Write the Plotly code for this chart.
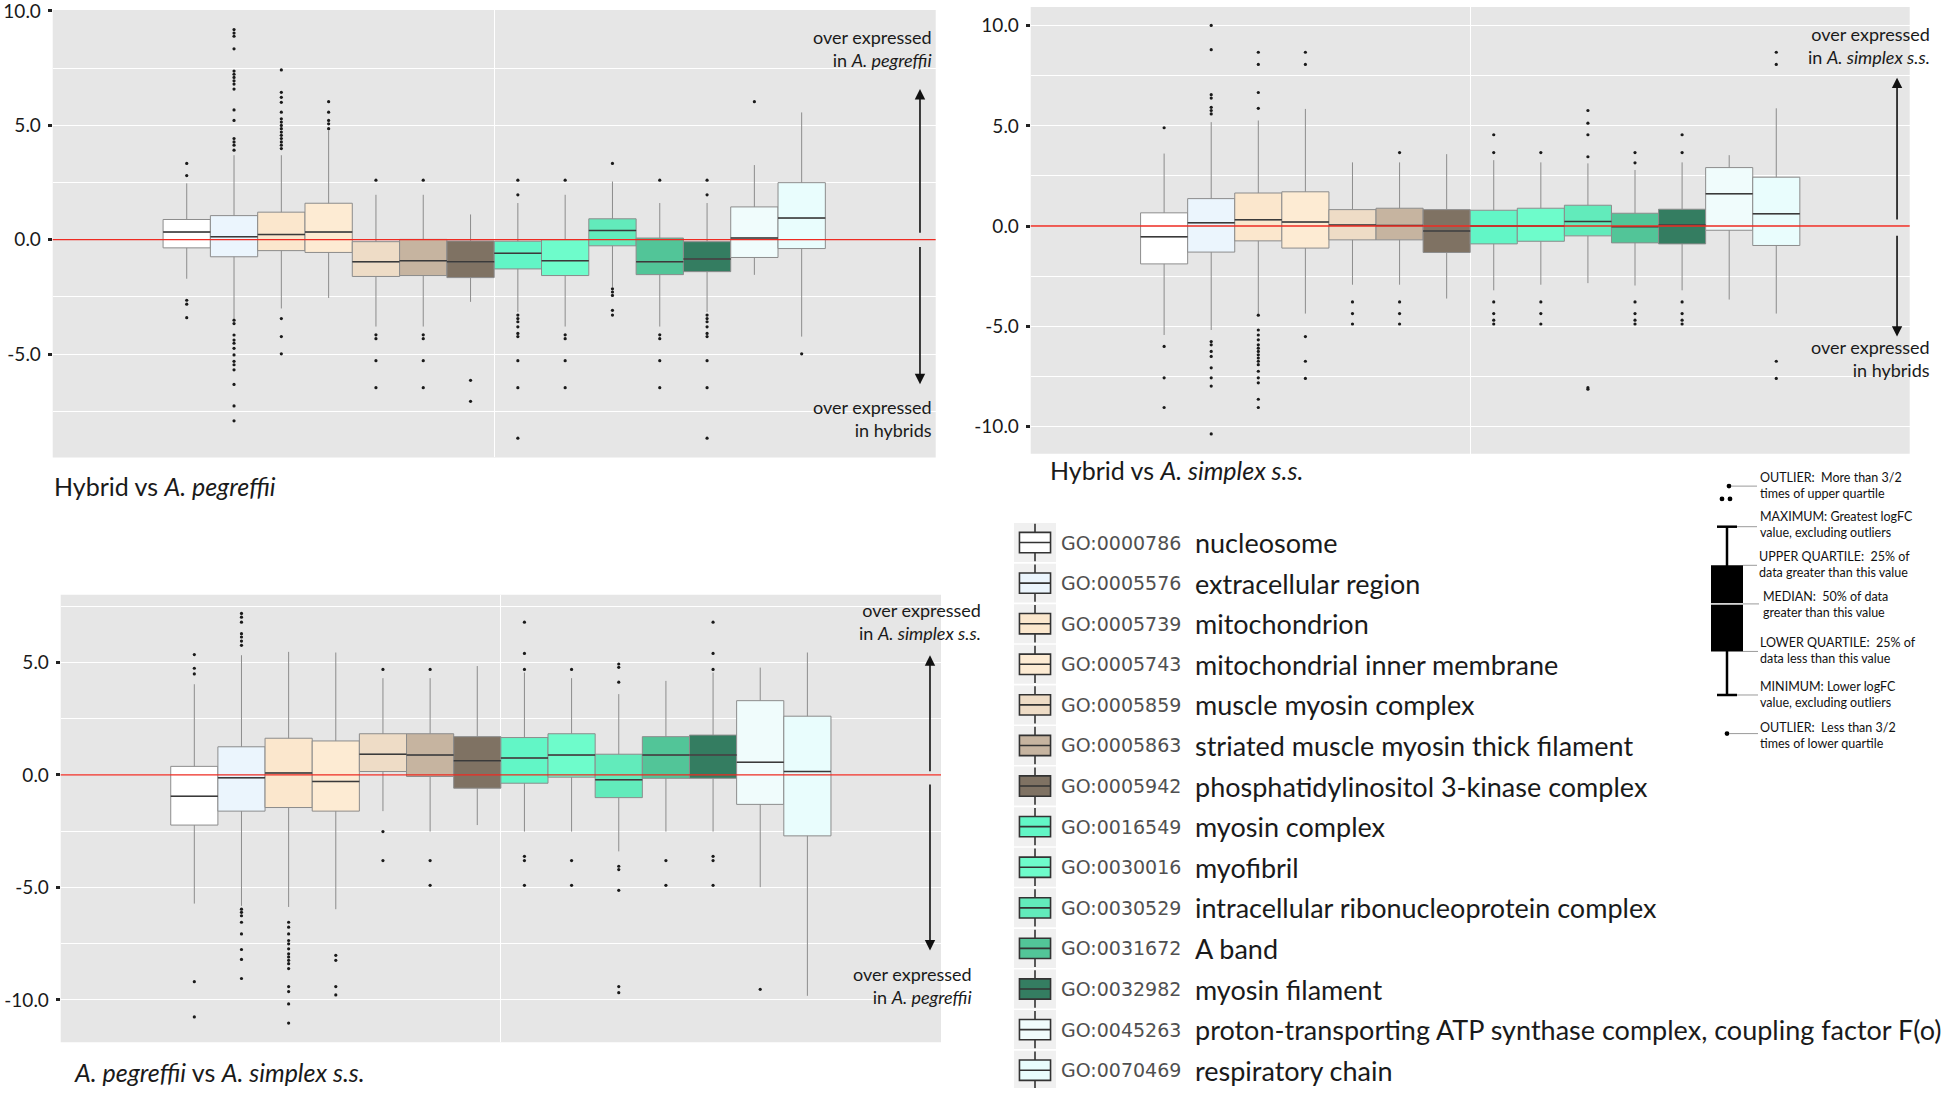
import plotly.graph_objects as go

W, H = 1946, 1094

# ---------------- data ----------------
go_ids = ["GO:0000786", "GO:0005576", "GO:0005739", "GO:0005743", "GO:0005859",
          "GO:0005863", "GO:0005942", "GO:0016549", "GO:0030016", "GO:0030529",
          "GO:0031672", "GO:0032982", "GO:0045263", "GO:0070469"]
go_terms = ["nucleosome", "extracellular region", "mitochondrion",
            "mitochondrial inner membrane", "muscle myosin complex",
            "striated muscle myosin thick filament",
            "phosphatidylinositol 3-kinase complex", "myosin complex", "myofibril",
            "intracellular ribonucleoprotein complex", "A band", "myosin filament",
            "proton-transporting ATP synthase complex, coupling factor F(o)",
            "respiratory chain"]
fill_colors = ["#FFFFFF", "#EBF5FD", "#FBE7CD", "#FDEBD3", "#EEDCC6", "#C6B4A0",
               "#7F7263", "#62F6C6", "#6EFCCB", "#62EBBB", "#52C598", "#347D61",
               "#F0FCFC", "#E9FDFD"]

tick_vals = [-10, -5, 0, 5, 10]
tick_text = ["-10.0", "-5.0", "0.0", "5.0", "10.0"]

# Panel 1: Hybrid vs A. pegreffii
p1_q1 = [-0.36, -0.75, -0.48, -0.56, -1.61, -1.57, -1.66, -1.28, -1.57, -0.27, -1.53, -1.40, -0.78, -0.39]
p1_med = [0.33, 0.13, 0.22, 0.33, -0.97, -0.92, -0.97, -0.60, -0.92, 0.40, -0.97, -0.85, 0.07, 0.94]
p1_q3 = [0.88, 1.05, 1.20, 1.59, -0.09, 0.01, -0.06, -0.07, 0.00, 0.91, 0.07, -0.09, 1.43, 2.49]
p1_lo = [-1.71, -3.44, -3.01, -2.55, -3.80, -3.80, -2.72, -3.16, -3.80, -2.07, -3.80, -3.16, -1.54, -4.24]
p1_hi = [2.46, 3.69, 3.69, 4.77, 1.96, 1.96, 1.10, 1.60, 1.96, 2.54, 1.60, 1.60, 3.26, 5.56]
p1_out = [
    [3.33, 2.80, -2.65, -2.82, -3.41],
    [9.18, 9.03, 8.89, 8.34, 7.37, 7.23, 7.09, 6.94, 6.80, 6.58, 5.67, 5.21, 4.42, 4.27, 4.13, 3.91,
     -3.52, -3.67, -4.17, -4.39, -4.53, -4.75, -5.04, -5.32, -5.47, -5.69, -6.33, -7.27, -7.92],
    [7.42, 6.44, 6.22, 6.00, 5.57, 5.28, 5.14, 4.99, 4.85, 4.70, 4.56, 4.42, 4.27, 4.13, 3.98,
     -3.45, -4.24, -4.99],
    [6.03, 5.57, 5.21, 5.06, 4.85],
    [2.60, -4.16, -4.33, -5.29, -6.47],
    [2.60, -4.16, -4.33, -5.29, -6.47],
    [-6.15, -7.07],
    [2.60, 1.96, -3.30, -3.45, -3.59, -3.81, -4.10, -4.24, -5.29, -6.47, -8.68],
    [2.60, -4.16, -4.33, -5.29, -6.47],
    [3.33, -2.15, -2.29, -2.44, -3.09, -3.30],
    [2.60, -4.16, -4.33, -5.29, -6.47],
    [2.60, 1.96, -3.30, -3.45, -3.59, -3.81, -4.10, -4.24, -5.29, -6.47, -8.68],
    [6.03],
    [-4.99],
]

# Panel 2: Hybrid vs A. simplex s.s.
p2_q1 = [-1.89, -1.30, -0.74, -1.10, -0.69, -0.69, -1.32, -0.89, -0.76, -0.49, -0.84, -0.89, -0.21, -0.97]
p2_med = [-0.54, 0.16, 0.31, 0.20, 0.05, 0.03, -0.25, 0.00, 0.00, 0.23, -0.03, 0.05, 1.61, 0.61]
p2_q3 = [0.66, 1.37, 1.65, 1.71, 0.82, 0.89, 0.82, 0.79, 0.89, 1.04, 0.64, 0.84, 2.92, 2.44]
p2_lo = [-5.44, -5.19, -4.37, -4.37, -2.93, -2.93, -3.62, -3.21, -2.93, -2.85, -2.97, -3.21, -3.67, -4.37]
p2_hi = [3.62, 5.19, 5.27, 5.85, 3.18, 3.18, 3.59, 3.29, 3.18, 3.13, 2.80, 3.18, 3.54, 5.88]
p2_out = [
    [4.91, -6.01, -7.58, -9.06],
    [10.02, 8.81, 6.56, 6.39, 5.93, 5.77, 5.60, -5.77, -5.93, -6.26, -6.51, -7.08, -7.58, -7.99, -10.38],
    [8.68, 8.07, 6.67, 5.88, -4.45, -5.19, -5.44, -5.68, -5.93, -6.10, -6.26, -6.43, -6.59, -6.75,
     -6.92, -7.25, -7.58, -7.83, -8.65, -9.06],
    [8.68, 8.07, -5.52, -6.75, -7.61],
    [-3.79, -4.37, -4.89],
    [3.67, -3.79, -4.37, -4.89],
    [],
    [4.56, 3.67, -3.79, -4.37, -4.70, -4.89],
    [3.67, -3.79, -4.37, -4.89],
    [5.77, 5.14, 4.56, 3.46, -8.07, -8.15],
    [3.67, 3.16, -3.79, -4.37, -4.70, -4.89],
    [4.56, 3.67, -3.79, -4.37, -4.70, -4.89],
    [],
    [8.68, 8.07, -6.75, -7.61],
]

# Panel 3: A. pegreffii vs A. simplex s.s.
p3_q1 = [-2.23, -1.61, -1.45, -1.61, 0.15, -0.07, -0.59, -0.37, -0.10, -1.01, -0.15, -0.15, -1.31, -2.71]
p3_med = [-0.95, -0.13, 0.09, -0.29, 0.92, 0.88, 0.63, 0.75, 0.88, -0.22, 0.88, 0.88, 0.56, 0.15]
p3_q3 = [0.38, 1.25, 1.63, 1.51, 1.83, 1.83, 1.70, 1.66, 1.83, 0.92, 1.70, 1.77, 3.30, 2.61]
p3_lo = [-5.72, -5.82, -5.87, -5.97, -1.61, -2.52, -2.23, -2.52, -2.52, -3.40, -2.52, -2.52, -4.99, -9.82]
p3_hi = [4.03, 5.32, 5.47, 5.44, 4.30, 4.30, 4.84, 4.55, 4.30, 3.59, 4.18, 4.55, 4.77, 5.44]
p3_out = [
    [5.35, 4.74, 4.49, -9.19, -10.76],
    [7.18, 7.01, 6.79, 6.28, 6.13, 5.95, 5.76, -5.97, -6.11, -6.26, -6.55, -7.07, -7.76, -8.20, -9.05],
    [-6.55, -6.77, -7.07, -7.36, -7.51, -7.73, -7.95, -8.09, -8.24, -8.39, -8.61, -9.41, -9.63,
     -10.18, -11.03],
    [-8.02, -8.24, -9.41, -9.78],
    [4.69, -2.52, -3.81],
    [4.69, -3.81, -4.91],
    [],
    [6.79, 5.40, 4.69, -3.62, -3.81, -4.91],
    [4.69, -3.81, -4.91],
    [4.93, 4.78, 4.12, -4.06, -4.21, -5.13, -9.41, -9.68],
    [-3.81, -4.91],
    [6.79, 5.40, 4.69, -3.62, -3.81, -4.91],
    [-9.53],
    [],
]

panel_titles = ["Hybrid vs <i>A. pegreffii</i>", "Hybrid vs <i>A. simplex s.s.</i>",
                "<i>A. pegreffii</i> vs <i>A. simplex s.s.</i>"]
top_notes = ["over expressed<br>in <i>A. pegreffii</i>", "over expressed<br>in <i>A. simplex s.s.</i>",
             "over expressed<br>in <i>A. simplex s.s.</i>"]
bottom_notes = ["over expressed<br>in hybrids", "over expressed<br>in hybrids",
                "over expressed<br>in <i>A. pegreffii</i>"]

# ---------------- helpers ----------------
def fx(px):
    return min(1.0, max(0.0, px / W))


def fy(py):
    return min(1.0, max(0.0, 1 - py / H))


FONT = "Lato"
n = len(go_ids)
bw = 0.9 / n
pos = [0.55 + (i + 0.5) * bw for i in range(n)]

fig = go.Figure()
shapes = []
annotations = []


def add_panel(k, q1, med, q3, lo, hi, outs):
    xa = "x" if k == 1 else f"x{k}"
    ya = "y" if k == 1 else f"y{k}"
    for i in range(n):
        fig.add_trace(go.Box(
            x=[pos[i]], q1=[q1[i]], median=[med[i]], q3=[q3[i]],
            lowerfence=[lo[i]], upperfence=[hi[i]], width=bw,
            fillcolor=fill_colors[i], line=dict(color="#8c8c8c", width=1),
            whiskerwidth=0, boxpoints=False, xaxis=xa, yaxis=ya,
            showlegend=False, hoverinfo="skip"))
    mx, my = [], []
    for i in range(n):
        mx += [pos[i] - bw / 2, pos[i] + bw / 2, None]
        my += [med[i], med[i], None]
    fig.add_trace(go.Scatter(x=mx, y=my, mode="lines", line=dict(color="#3a3a3a", width=1.5),
                             xaxis=xa, yaxis=ya, showlegend=False, hoverinfo="skip"))
    ox, oy = [], []
    for i in range(n):
        ox += [pos[i]] * len(outs[i])
        oy += outs[i]
    fig.add_trace(go.Scatter(x=ox, y=oy, mode="markers",
                             marker=dict(size=3.2, color="#1a1a1a"),
                             xaxis=xa, yaxis=ya, showlegend=False, hoverinfo="skip"))
    shapes.append(dict(type="rect", xref=f"{xa} domain", yref=f"{ya} domain", x0=0, x1=1, y0=0, y1=1,
                       fillcolor="#E6E6E6", line=dict(width=0), layer="below"))
    shapes.append(dict(type="line", xref=f"{xa} domain", yref=ya, x0=0, x1=1, y0=0, y1=0,
                       line=dict(color="#EE2B22", width=1.4), layer="above"))


add_panel(1, p1_q1, p1_med, p1_q3, p1_lo, p1_hi, p1_out)
add_panel(2, p2_q1, p2_med, p2_q3, p2_lo, p2_hi, p2_out)
add_panel(3, p3_q1, p3_med, p3_q3, p3_lo, p3_hi, p3_out)

# legend rows
row_top, row_step = 543, 41.0
row_y = [row_top + row_step * i for i in range(n)]
leg_bottom_px = min(H, row_top + row_step * 13.5)
leg_range_bottom = (leg_bottom_px - row_top) / row_step

# legend key icons (on their own hidden axis; one row per GO term)
for i in range(n):
    fig.add_trace(go.Box(
        x=[0.5], q1=[i - 0.25], median=[i], q3=[i + 0.25],
        lowerfence=[i - 0.46], upperfence=[i + 0.46], width=0.74,
        fillcolor=fill_colors[i], line=dict(color="#333333", width=1.6),
        whiskerwidth=0, boxpoints=False, xaxis="x4", yaxis="y4",
        showlegend=False, hoverinfo="skip"))
    shapes.append(dict(type="rect", xref="x4", yref="y4", x0=0, x1=1, y0=i - 0.48,
                       y1=min(i + 0.48, leg_range_bottom),
                       fillcolor="#F0F0F0", line=dict(width=0), layer="below"))

# ---------------- axes ----------------
panel_px = {  # left, right, top, bottom (pixels)
    1: (52.7, 935.7, 5, 457),
    2: (1030.7, 1909.7, 2, 453.3),
    3: (60.7, 941.0, 595.7, 1047.7),
}
y_ranges = {1: [-9.52, 10.04], 2: [-11.37, 10.94], 3: [-11.88, 8.01]}

layout_axes = {}
for k in (1, 2, 3):
    l, r, t, b = panel_px[k]
    xs = "xaxis" if k == 1 else f"xaxis{k}"
    ys = "yaxis" if k == 1 else f"yaxis{k}"
    layout_axes[xs] = dict(domain=[fx(l), fx(r)], range=[0.4, 1.6], anchor="y" if k == 1 else f"y{k}",
                           tickvals=[1], showticklabels=False, ticks="", showgrid=True,
                           gridcolor="white", gridwidth=1, zeroline=False, showline=False,
                           fixedrange=True)
    layout_axes[ys] = dict(domain=[fy(b), fy(t)], range=y_ranges[k], anchor="x" if k == 1 else f"x{k}",
                           tickmode="array", tickvals=tick_vals, ticktext=tick_text,
                           ticks="outside", ticklen=4, tickwidth=3, tickcolor="#222222",
                           ticklabelstandoff=3, ticklabeloverflow="allow",
                           tickfont=dict(family=FONT, size=19, color="#1a1a1a"),
                           showgrid=True, gridcolor="white", gridwidth=1.3,
                           minor=dict(tickmode="array", tickvals=[-7.5, -2.5, 2.5, 7.5],
                                      showgrid=True, gridcolor="white", gridwidth=0.9, ticks=""),
                           zeroline=False, showline=False, fixedrange=True)

layout_axes["xaxis4"] = dict(domain=[fx(1014), fx(1056)], range=[0, 1], anchor="y4", visible=False)
layout_axes["yaxis4"] = dict(domain=[fy(leg_bottom_px), fy(row_top - row_step * 0.5)],
                             range=[leg_range_bottom, -0.5], anchor="x4", visible=False)

# ---------------- annotations ----------------
title_pos = [(52, 486), (1048, 470), (72, 1078)]
for (tx, ty), txt in zip(title_pos, panel_titles):
    annotations.append(dict(text=txt, x=fx(tx), y=fy(ty), xref="paper", yref="paper",
                            xanchor="left", yanchor="middle", showarrow=False,
                            font=dict(family=FONT, size=25, color="#1a1a1a")))

note_top_pos = [(934, 43.5), (1932, 41), (983, 623)]
note_bot_pos = [(934, 418), (1932, 357.5), (974, 990)]
for (tx, ty), txt in list(zip(note_top_pos, top_notes)) + list(zip(note_bot_pos, bottom_notes)):
    annotations.append(dict(text=txt, x=fx(tx), y=fy(ty), xref="paper", yref="paper",
                            xanchor="right", yanchor="middle", align="right", showarrow=False,
                            font=dict(family=FONT, size=18, color="#1a1a1a")))

# direction arrows (x in axis-domain fraction, y in data units)
arrows = {1: (0.9822, 0.23, 6.58, -0.26, -6.32),
          2: (0.9856, 0.25, 7.41, -0.41, -5.52),
          3: (0.9875, 0.10, 5.32, -0.36, -7.80)}
for k, (ax_frac, up0, up1, dn0, dn1) in arrows.items():
    xa = "x" if k == 1 else f"x{k}"
    ya = "y" if k == 1 else f"y{k}"
    for y0, y1 in ((up0, up1), (dn0, dn1)):
        annotations.append(dict(text="", x=ax_frac, y=y1, ax=ax_frac, ay=y0,
                                xref=f"{xa} domain", yref=ya, axref=f"{xa} domain", ayref=ya,
                                showarrow=True, arrowhead=2, arrowsize=1.3, arrowwidth=1.6,
                                arrowcolor="#111111"))

# legend text
for i in range(n):
    annotations.append(dict(text=go_ids[i], x=fx(1059), y=fy(row_y[i]), xref="paper", yref="paper",
                            xanchor="left", yanchor="middle", showarrow=False,
                            font=dict(family="DejaVu Sans", size=19, color="#505050")))
    annotations.append(dict(text=go_terms[i], x=fx(1193), y=fy(row_y[i]), xref="paper", yref="paper",
                            xanchor="left", yanchor="middle", showarrow=False,
                            font=dict(family=FONT, size=27, color="#1a1a1a")))

# ---------------- boxplot explanation diagram ----------------
def pline(x0, y0, x1, y1, color="#000000", width=2.5):
    shapes.append(dict(type="line", xref="paper", yref="paper", x0=fx(x0), y0=fy(y0),
                       x1=fx(x1), y1=fy(y1), line=dict(color=color, width=width)))


def pdot(cx, cy, r=2.4):
    shapes.append(dict(type="circle", xref="paper", yref="paper", x0=fx(cx - r), x1=fx(cx + r),
                       y0=fy(cy + r), y1=fy(cy - r), fillcolor="#000000", line=dict(width=0)))


pline(1727, 527, 1727, 697)
pline(1717, 527, 1737, 527)
pline(1717, 697, 1737, 697)
shapes.append(dict(type="rect", xref="paper", yref="paper", x0=fx(1711), x1=fx(1743),
                   y0=fy(653), y1=fy(566), fillcolor="#000000", line=dict(width=0)))
pline(1711, 605, 1743, 605, color="#ffffff", width=1.5)
pdot(1729, 486)
pdot(1722, 499)
pdot(1730, 499)
pdot(1727, 736)
for (x0, y0, x1) in [(1731, 486, 1757), (1737, 527, 1757), (1743, 566, 1757), (1743, 605, 1759),
                     (1743, 653, 1758), (1737, 697, 1758), (1729, 736, 1758)]:
    pline(x0, y0, x1, y0, color="#9a9a9a", width=1)

expl_texts = ["OUTLIER:  More than 3/2<br>times of upper quartile",
              "MAXIMUM: Greatest logFC<br>value, excluding outliers",
              "UPPER QUARTILE:  25% of<br>data greater than this value",
              "MEDIAN:  50% of data<br>greater than this value",
              "LOWER QUARTILE:  25% of<br>data less than this value",
              "MINIMUM: Lower logFC<br>value, excluding outliers",
              "OUTLIER:  Less than 3/2<br>times of lower quartile"]
expl_y = [485.5, 525, 565, 605.5, 652, 697, 737.5]
expl_x = [1758, 1758, 1757, 1761, 1758, 1758, 1758]
for t, yy, xx in zip(expl_texts, expl_y, expl_x):
    annotations.append(dict(text=t, x=fx(xx), y=fy(yy), xref="paper", yref="paper",
                            xanchor="left", yanchor="middle", align="left", showarrow=False,
                            font=dict(family=FONT, size=12.5, color="#111111")))

fig.update_layout(
    width=W, height=H, autosize=False,
    margin=dict(l=0, r=0, t=0, b=0),
    paper_bgcolor="white", plot_bgcolor="rgba(0,0,0,0)",
    boxmode="overlay", showlegend=False,
    shapes=shapes, annotations=annotations,
    **layout_axes,
)

fig.write_html(
    "out.html",
    config={"displayModeBar": False},
    post_script=("document.documentElement.style.margin='0px';"
                 "document.body.style.margin='0px';document.body.style.padding='0px';"
                 "document.body.style.overflow='hidden';"
                 "var gd=document.getElementById('{plot_id}');"
                 "gd.style.position='fixed';gd.style.left='0px';gd.style.top='-6px';"),
)
